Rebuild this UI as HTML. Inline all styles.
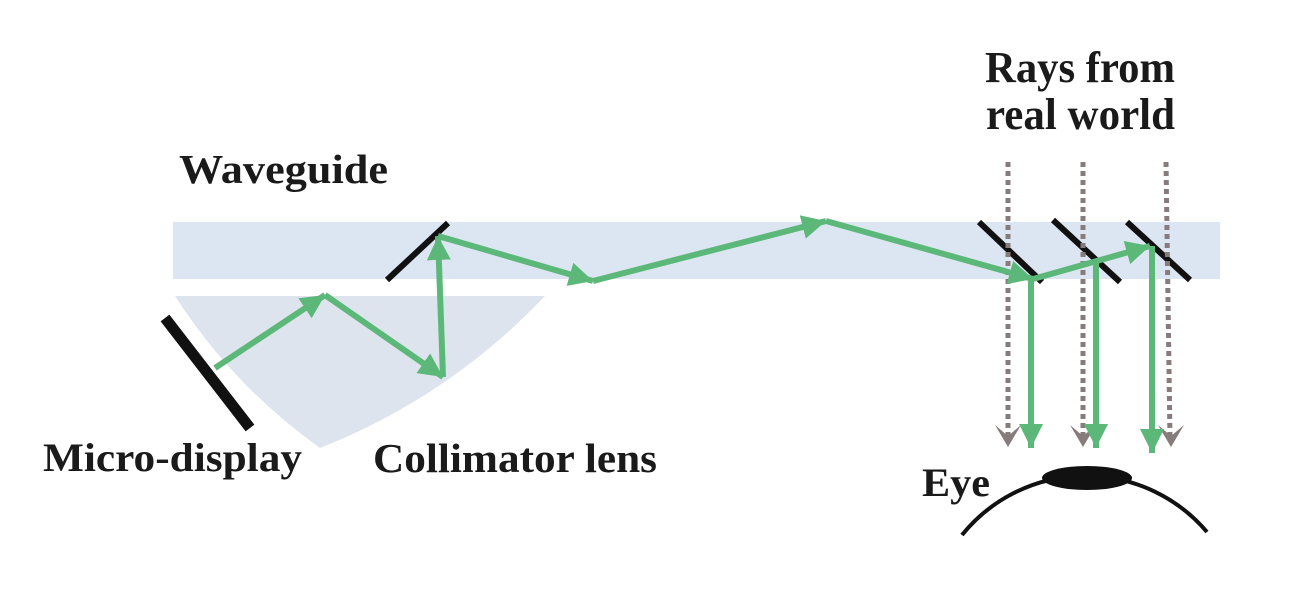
<!DOCTYPE html>
<html>
<head>
<meta charset="utf-8">
<style>
html,body{margin:0;padding:0;background:#fff;}
svg{display:block;}
text{font-family:"Liberation Serif",serif;font-weight:bold;fill:#1a1a1a;}
</style>
</head>
<body>
<svg width="1293" height="598" viewBox="0 0 1293 598" xmlns="http://www.w3.org/2000/svg">
<defs>
<marker id="ga" markerUnits="userSpaceOnUse" markerWidth="26" markerHeight="26" refX="24" refY="12" orient="auto">
<path d="M0,0 L24,12 L0,24 Z" fill="#5cb878"/>
</marker>
</defs>
<!-- waveguide -->
<rect x="173" y="222" width="1047" height="57" fill="#dce6f2"/>
<!-- lens -->
<path d="M175,296 L545,296 Q449,397 320,448 Q233,386 175,296 Z" fill="#dde4ee"/>

<!-- micro-display -->
<line x1="165" y1="318" x2="250" y2="428" stroke="#111" stroke-width="11"/>
<!-- mirror 1 -->
<line x1="387" y1="280" x2="448" y2="223" stroke="#111" stroke-width="6"/>
<!-- right mirrors -->
<line x1="979" y1="222" x2="1042" y2="282" stroke="#111" stroke-width="6"/>
<line x1="1053" y1="220" x2="1120" y2="282" stroke="#111" stroke-width="6"/>
<line x1="1127" y1="222" x2="1190" y2="280" stroke="#111" stroke-width="6"/>

<!-- dotted rays -->
<g stroke="#867c7c" stroke-width="5" stroke-dasharray="5 4" fill="none">
<line x1="1008" y1="162" x2="1008" y2="438"/>
<line x1="1083" y1="162" x2="1083" y2="438"/>
<line x1="1166" y1="162" x2="1170" y2="438"/>
</g>
<g fill="#867c7c">
<path d="M995,425 L1008,447 L1021,425 L1008,436 Z"/>
<path d="M1070,425 L1083,447 L1096,425 L1083,436 Z"/>
<path d="M1158,425 L1171,447 L1184,425 L1171,436 Z"/>
</g>

<!-- green rays -->
<g stroke="#5cb878" stroke-width="6" fill="none" marker-end="url(#ga)">
<line x1="215" y1="368" x2="325" y2="295"/>
<line x1="325" y1="295" x2="443" y2="377"/>
<line x1="443" y1="377" x2="438" y2="236"/>
<line x1="438" y1="236" x2="593" y2="281"/>
<line x1="593" y1="281" x2="826" y2="221"/>
<line x1="826" y1="221" x2="1033" y2="279"/>
<line x1="1033" y1="279" x2="1150" y2="246"/>
<line x1="1031" y1="279" x2="1031" y2="448"/>
<line x1="1096" y1="262" x2="1096" y2="448"/>
<line x1="1152" y1="246" x2="1152" y2="453"/>
</g>

<!-- eye -->
<path d="M962,535 A159,159 0 0 1 1207,532" fill="none" stroke="#111" stroke-width="4"/>
<ellipse cx="1087" cy="478" rx="45" ry="12" fill="#111"/>

<!-- labels -->
<text x="179" y="183" font-size="41" textLength="209" lengthAdjust="spacingAndGlyphs">Waveguide</text>
<text x="985" y="82" font-size="44" textLength="190" lengthAdjust="spacingAndGlyphs">Rays from</text>
<text x="986" y="129" font-size="44" textLength="189" lengthAdjust="spacingAndGlyphs">real world</text>
<text x="43" y="471" font-size="40" textLength="259" lengthAdjust="spacingAndGlyphs">Micro-display</text>
<text x="373" y="472" font-size="41" textLength="284" lengthAdjust="spacingAndGlyphs">Collimator lens</text>
<text x="922" y="496" font-size="40" textLength="68" lengthAdjust="spacingAndGlyphs">Eye</text>
</svg>
</body>
</html>
